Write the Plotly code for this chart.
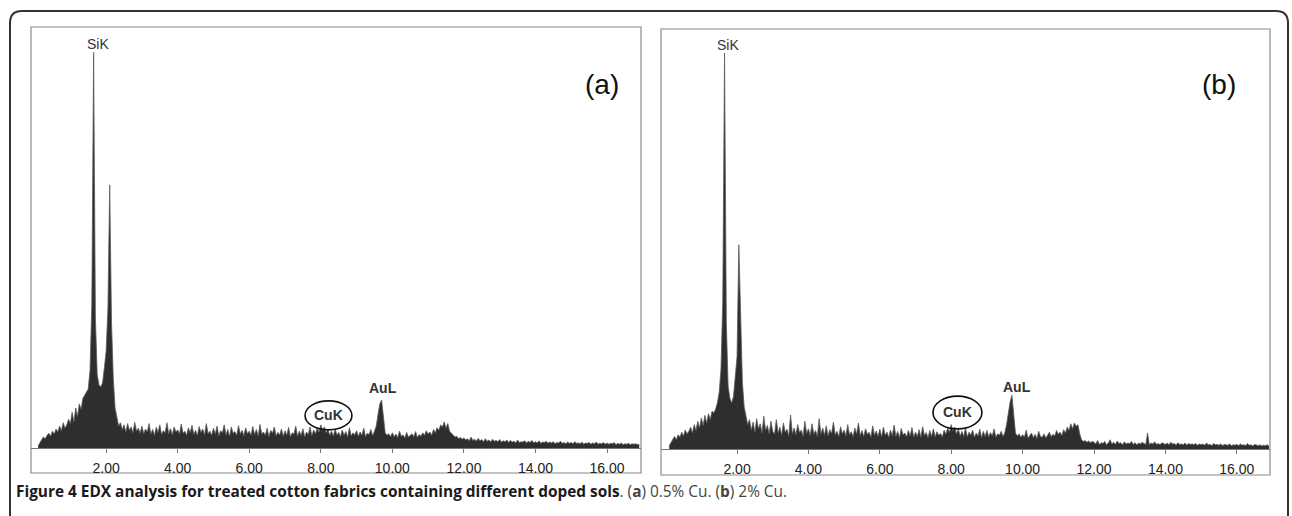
import numpy as np
import plotly.graph_objects as go

W, H = 1292, 516

# Energy channels (keV), 0.05 keV step
energy = np.round(np.arange(0.10, 16.901, 0.05), 2)

# Panel (a) counts (arbitrary units), read per keV row
counts_a = [
    5, 14, 20, 26, 22, 30, 35, 28, 40, 33, 45, 38, 52, 41, 60, 47, 55, 68,
    58, 85, 62, 95, 75, 105, 92, 118, 125, 135, 140, 185, 340, 940, 310, 175, 150, 145, 155, 190,
    230, 330, 625, 300, 165, 95, 68, 52, 60, 44, 55, 38, 58, 42, 50, 36, 61, 40, 47, 35,
    52, 34, 45, 38, 58, 33, 44, 30, 49, 37, 55, 32, 41, 36, 60, 34, 46, 31, 50, 38,
    43, 33, 57, 35, 40, 30, 48, 36, 54, 32, 42, 29, 51, 37, 45, 31, 58, 34, 40, 30,
    47, 33, 52, 29, 41, 36, 55, 31, 44, 28, 50, 35, 39, 30, 53, 33, 42, 29, 48, 34,
    40, 30, 51, 32, 44, 28, 56, 33, 38, 30, 47, 27, 42, 35, 50, 29, 37, 31, 45, 28,
    41, 30, 49, 27, 36, 33, 52, 28, 40, 30, 46, 26, 38, 32, 50, 29, 43, 34, 47, 38,
    55, 42, 50, 36, 44, 30, 40, 28, 45, 31, 37, 27, 43, 30, 39, 26, 48, 29, 36, 31,
    41, 28, 38, 30, 47, 27, 35, 32, 44, 29, 40, 52, 80, 105, 114, 66, 36, 30, 34, 27,
    36, 27, 33, 25, 40, 28, 31, 24, 37, 26, 30, 34, 27, 39, 25, 32, 28, 36, 30, 41,
    33, 38, 30, 44, 36, 48, 42, 55, 50, 62, 47, 58, 40, 36, 30, 26, 28, 22, 25, 21,
    24, 19, 22, 17, 26, 18, 21, 16, 23, 17, 20, 15, 22, 16, 19, 14, 21, 16, 18, 15,
    20, 14, 17, 15, 19, 13, 18, 14, 16, 12, 19, 13, 15, 14, 17, 12, 16, 13, 18, 12,
    15, 12, 17, 11, 14, 13, 16, 11, 14, 12, 15, 10, 13, 12, 16, 11, 13, 10, 14, 11,
    13, 10, 15, 11, 12, 10, 14, 9, 12, 11, 13, 9, 12, 10, 14, 9, 11, 10, 13, 9,
    12, 9, 11, 10, 13, 8, 11, 9, 12, 8, 10, 9, 11, 8, 10, 9, 10, 8, 9,
]

# Panel (b) counts
counts_b = [
    8, 16, 24, 30, 22, 34, 28, 40, 31, 45, 36, 42, 52, 38, 58, 44, 66, 50,
    74, 56, 80, 62, 84, 70, 90, 86, 95, 110, 135, 190, 350, 943, 300, 150, 120, 110, 125, 170,
    220, 486, 300, 160, 100, 75, 58, 70, 45, 64, 40, 72, 48, 60, 38, 78, 44, 56, 36, 66,
    42, 35, 70, 38, 52, 33, 62, 40, 47, 31, 81, 36, 50, 34, 58, 39, 45, 30, 66, 37,
    48, 32, 60, 36, 44, 30, 72, 35, 50, 33, 55, 31, 46, 37, 64, 34, 42, 30, 53, 36,
    45, 31, 58, 34, 41, 29, 50, 36, 62, 32, 44, 30, 48, 35, 40, 28, 55, 33, 43, 30,
    47, 29, 52, 33, 40, 28, 45, 31, 57, 30, 42, 27, 49, 34, 38, 29, 44, 31, 51, 28,
    40, 30, 46, 28, 53, 32, 39, 27, 44, 30, 48, 29, 41, 33, 37, 28, 45, 35, 50, 40,
    58, 44, 52, 36, 47, 31, 42, 30, 50, 29, 40, 33, 45, 28, 38, 31, 47, 27, 42, 30,
    44, 29, 39, 31, 48, 28, 36, 33, 42, 30, 38, 58, 88, 112, 128, 72, 38, 31, 36, 28,
    34, 28, 45, 26, 32, 38, 27, 35, 25, 42, 30, 28, 36, 26, 33, 40, 29, 35, 31, 44,
    35, 40, 32, 46, 38, 52, 44, 60, 48, 62, 54, 58, 36, 22, 18, 20, 16, 19, 15, 18,
    16, 12, 20, 11, 15, 13, 18, 10, 14, 22, 12, 16, 11, 19, 13, 15, 10, 17, 12, 14,
    13, 18, 11, 15, 10, 14, 12, 16, 13, 11, 38, 10, 14, 12, 17, 11, 13, 10, 15, 12,
    11, 14, 10, 16, 12, 13, 9, 15, 11, 12, 10, 14, 9, 13, 11, 12, 10, 13, 9, 12,
    10, 12, 9, 14, 10, 11, 8, 13, 10, 11, 9, 12, 8, 11, 10, 9, 12, 8, 10, 9,
    11, 8, 12, 9, 10, 8, 13, 9, 10, 7, 11, 9, 8, 10, 7, 9, 8, 10, 7,
]

tick_vals = [2, 4, 6, 8, 10, 12, 14, 16]
tick_text = ["2.00", "4.00", "6.00", "8.00", "10.00", "12.00", "14.00", "16.00"]

panel_labels = ["(a)", "(b)"]
# peak labels: (text, energy keV, height) per panel
peak_labels_a = [("SiK", 1.76, 960), ("<b>AuL</b>", 9.74, 142)]
peak_labels_b = [("SiK", 1.74, 962), ("<b>AuL</b>", 9.84, 148)]
cuk_a = (7.56, 8.87, 43, 112)
cuk_b = (7.49, 8.86, 48, 126)

caption = ("<b>Figure 4 EDX analysis for treated cotton fabrics containing different doped sols</b>"
           "<span style='color:#444'>. (<b>a</b>) 0.5% Cu. (<b>b</b>) 2% Cu.</span>")


def px(x):
    return x / W


def py(y):
    return 1 - y / H


fig = go.Figure()
for i, cnt in enumerate([counts_a, counts_b]):
    xa = "x" if i == 0 else "x2"
    ya = "y" if i == 0 else "y2"
    fig.add_trace(go.Scatter(
        x=energy, y=cnt, xaxis=xa, yaxis=ya, mode="lines",
        line=dict(color="#5a5a5a", width=0.8), fill="tozeroy",
        fillcolor="#2e2e2e", hoverinfo="x+y", showlegend=False))

axis_common = dict(
    tickmode="array", tickvals=tick_vals, ticktext=tick_text,
    showgrid=False, zeroline=False, showline=True, linecolor="#777", linewidth=1.4,
    ticks="outside", ticklen=4, tickcolor="#777", tickwidth=1,
    tickfont=dict(family="Liberation Sans, Arial", size=14, color="#222"),
    ticklabelstandoff=3,
)
fig.update_layout(
    width=W, height=H, margin=dict(l=0, r=0, t=0, b=0),
    paper_bgcolor="white", plot_bgcolor="white",
    xaxis=dict(domain=[px(31), px(641)], range=[-0.1, 16.95], anchor="y", **axis_common),
    xaxis2=dict(domain=[px(661), px(1270)], range=[-0.13, 16.93], anchor="y2", **axis_common),
    yaxis=dict(domain=[py(448), py(27)], range=[0, 1000], visible=False, anchor="x"),
    yaxis2=dict(domain=[py(449), py(29)], range=[0, 1000], visible=False, anchor="x2"),
)

shapes = []
# panel frames
for (x0, x1, y0, y1) in [(31, 641, 473, 27), (661, 1270, 475, 29)]:
    shapes.append(dict(type="rect", xref="paper", yref="paper",
                       x0=px(x0), x1=px(x1), y0=py(y0), y1=py(y1),
                       line=dict(color="#8a8a8a", width=1.2), layer="below"))
# outer rounded border
r = 12
path = (f"M {px(10)} {py(540)} L {px(10)} {py(11 + r)} Q {px(10)} {py(11)} {px(10 + r)} {py(11)} "
        f"L {px(1288 - r)} {py(11)} Q {px(1288)} {py(11)} {px(1288)} {py(11 + r)} L {px(1288)} {py(540)}")
shapes.append(dict(type="path", xref="paper", yref="paper", path=path,
                   line=dict(color="#333", width=2)))
# CuK ellipses
for (xr, yr, c) in [("x", "y", cuk_a), ("x2", "y2", cuk_b)]:
    shapes.append(dict(type="circle", xref=xr, yref=yr, x0=c[0], x1=c[1], y0=c[2], y1=c[3],
                       line=dict(color="#111", width=1.6)))
fig.update_layout(shapes=shapes)

ann = []
lab_font = dict(family="Liberation Sans, Arial", size=14, color="#333")
for (xr, yr, labels, c) in [("x", "y", peak_labels_a, cuk_a), ("x2", "y2", peak_labels_b, cuk_b)]:
    for (t, e, h) in labels:
        ann.append(dict(x=e, y=h, xref=xr, yref=yr, text=t, showarrow=False, font=lab_font))
    ann.append(dict(x=(c[0] + c[1]) / 2, y=(c[2] + c[3]) / 2, xref=xr, yref=yr, text="<b>CuK</b>",
                    showarrow=False, font=dict(family="Liberation Sans, Arial", size=14, color="#333")))
for t, xc in zip(panel_labels, [602, 1238]):
    ann.append(dict(x=px(xc), y=py(67), xref="paper", yref="paper", text=t, showarrow=False,
                    font=dict(family="Liberation Sans, Arial", size=28, color="#111")))
ann.append(dict(x=px(14), y=py(491), xref="paper", yref="paper", xanchor="left", yanchor="middle",
                text=caption, showarrow=False,
                font=dict(family="Open Sans", size=15.4, color="#1a1a1a")))
fig.update_layout(annotations=ann)

fig.write_html("out.html", config={"displayModeBar": False},
               post_script="document.body.style.margin='0px';")
